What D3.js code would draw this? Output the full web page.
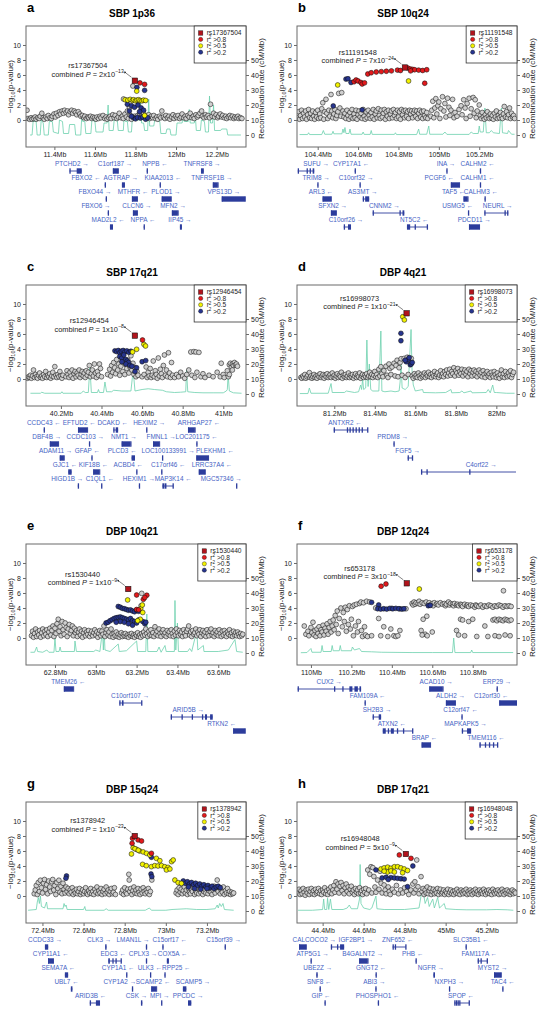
<!DOCTYPE html>
<html><head><meta charset="utf-8">
<script src="https://cdn.jsdelivr.net/npm/d3@7"></script>
<style>body{margin:0;background:#fff}svg{display:block}text{font-family:"Liberation Sans",Arial,sans-serif}</style>
</head><body><svg id="c" width="542" height="1034"></svg>
<script>
// ---------- Panel a: SBP 1p36 ----------
const ticksA=[11.4,11.6,11.8,12,12.2];
const tickLabA=["11.4Mb","11.6Mb","11.8Mb","12Mb","12.2Mb"];
const greyA=[[11.265,1.3],[11.27,0.2],[11.278,0.1],[11.285,0.3],[11.29,0.1],[11.298,0.2],[11.305,0.4],[11.31,0.1],[11.318,0.3],[11.325,0.2],[11.33,0.5],[11.338,0.9],[11.345,0.3],[11.35,0.1],[11.358,0.4],[11.365,0.2],[11.37,0.6],[11.378,0.3],[11.385,0.2],[11.39,0.5],[11.398,0.8],[11.405,0.4],[11.41,0.9],[11.418,0.6],[11.425,1.1],[11.43,0.8],[11.438,1.2],[11.445,0.9],[11.45,1.3],[11.458,1.0],[11.465,1.2],[11.47,0.7],[11.478,1.1],[11.485,1.3],[11.49,0.9],[11.498,1.2],[11.505,1.0],[11.51,0.7],[11.518,1.1],[11.525,0.8],[11.53,0.5],[11.538,0.6],[11.545,0.3],[11.55,0.5],[11.558,0.2],[11.565,0.4],[11.57,0.3],[11.578,0.5],[11.585,0.2],[11.59,0.4],[11.598,0.3],[11.605,0.1],[11.61,0.4],[11.618,0.2],[11.625,0.5],[11.63,0.3],[11.64,0.6],[11.648,0.2],[11.655,0.4],[11.66,0.1],[11.668,0.3],[11.675,0.5],[11.68,0.2],[11.688,0.7],[11.695,0.3],[11.70,0.6],[11.708,0.2],[11.715,0.4],[11.72,0.9],[11.728,0.3],[11.735,0.5],[11.74,0.2],[11.748,0.8],[11.755,0.4],[11.76,1.2],[11.765,0.2],[11.77,1.7],[11.775,0.6],[11.78,0.1],[11.787,4.53],[11.741,2.8],[11.795,0.5],[11.81,0.6],[11.82,0.8],[11.83,0.5],[11.84,0.9],[11.855,0.4],[11.865,0.7],[11.87,0.2],[11.878,0.5],[11.885,0.3],[11.89,0.6],[11.898,0.2],[11.905,0.4],[11.91,0.1],[11.918,0.5],[11.925,0.3],[11.93,1.2],[11.938,0.4],[11.945,0.2],[11.95,0.6],[11.958,0.3],[11.965,0.5],[11.97,0.1],[11.978,0.4],[11.985,0.7],[11.99,0.2],[11.998,0.5],[12.005,0.3],[12.01,0.6],[12.018,0.2],[12.025,0.4],[12.03,0.8],[12.038,0.3],[12.045,0.5],[12.05,0.2],[12.058,0.6],[12.065,0.4],[12.07,0.9],[12.078,0.3],[12.085,0.5],[12.09,0.2],[12.098,0.7],[12.105,0.4],[12.11,0.6],[12.118,0.9],[12.126,1.2],[12.13,0.5],[12.138,0.3],[12.145,0.7],[12.15,0.4],[12.158,0.6],[12.165,0.3],[12.17,2.1],[12.178,0.5],[12.185,0.9],[12.19,0.4],[12.198,0.7],[12.205,0.3],[12.21,0.5],[12.218,0.8],[12.225,0.4],[12.23,0.6],[12.238,0.3],[12.245,0.5],[12.25,0.2],[12.258,0.4],[12.265,0.6],[12.27,0.3],[12.278,0.5],[12.285,0.2],[12.29,0.4],[12.298,0.3],[12.305,0.5],[12.31,0.2],[12.318,0.3],[12.325,0.2]];
const blueA=[[11.807,4.35],[11.845,3.95],[11.76,2.1],[11.78,1.9],[11.795,1.7],[11.812,2.0],[11.828,1.6],[11.84,1.3],[11.77,1.2],[11.79,0.3],[11.80,0.15],[11.81,0.35],[11.825,0.25],[11.835,0.4],[11.85,0.1],[11.86,0.3],[11.78,0.5],[11.82,1.1]];
const yellowA=[[11.806,3.85],[11.749,2.7],[11.762,2.65],[11.774,2.75],[11.785,2.6],[11.791,2.7],[11.80,2.55],[11.807,2.65],[11.815,2.7],[11.823,2.6],[11.832,2.55],[11.84,2.65],[11.85,2.6],[11.845,0.6]];
const redA=[[11.822,4.95],[11.845,4.75]];
const leadA=[11.797,5.24];
const recA=[[11.28,0],[11.29,0],[11.295,9],[11.31,9],[11.315,0],[11.33,0],[11.335,10],[11.345,8],[11.35,0],[11.37,0],[11.375,9],[11.39,9],[11.395,2],[11.42,1],[11.425,10],[11.44,9],[11.445,1],[11.47,1],[11.475,7],[11.5,7],[11.505,0],[11.53,0],[11.535,12],[11.54,9],[11.55,9],[11.555,1],[11.58,1],[11.585,10],[11.6,9],[11.605,2],[11.64,2],[11.645,8],[11.66,8],[11.665,20],[11.67,3],[11.69,3],[11.695,10],[11.71,10],[11.715,3],[11.74,3],[11.745,14],[11.75,9],[11.76,9],[11.765,2],[11.78,2],[11.785,12],[11.8,10],[11.82,10],[11.825,22],[11.83,8],[11.84,8],[11.845,3],[11.86,3],[11.865,24],[11.87,6],[11.89,6],[11.895,10],[11.92,9],[11.925,1],[11.95,1],[11.955,4],[11.97,4],[11.975,0],[12.0,0],[12.005,8],[12.03,8],[12.035,14],[12.04,9],[12.06,9],[12.065,17],[12.07,8],[12.09,8],[12.095,13],[12.1,3],[12.12,3],[12.125,10],[12.14,9],[12.145,2],[12.16,2],[12.165,26],[12.17,8],[12.18,8],[12.185,20],[12.19,3],[12.22,3],[12.225,4],[12.25,4],[12.255,0],[12.3,0],[12.32,0]];
const genesA=[["PTCHD2","r",0,11.474,11.535,11.486,[[11.474,11.477],[11.51,11.535]]],["C1orf187","r",0,11.689,11.714,11.699],["NPPB","l",0,11.855,11.858,11.896],["TNFRSF8","r",0,12.123,12.137,12.128],["FBXO2","l",1,11.648,11.652,11.556],["AGTRAP","r",1,11.733,11.748,11.727],["KIAA2013","l",1,11.919,11.922,11.935],["TNFRSF1B","r",1,12.182,12.206,12.177],["FBXO44","r",2,11.653,11.657,11.6],["MTHFR","l",2,11.783,11.808,11.788],["PLOD1","r",2,11.93,11.975,11.95],["VPS13D","r",2,12.226,12.34,12.236],["FBXO6","r",3,11.663,11.667,11.605],["CLCN6","r",3,11.788,11.808,11.807],["MFN2","r",3,11.98,12.009,11.985],["MAD2L2","l",4,11.674,11.689,11.665],["NPPA","l",4,11.84,11.843,11.837],["IIP45","r",4,12.019,12.029,12.019]];

// ---------- Panel b: SBP 10q24 ----------
const ticksB=[104.4,104.6,104.8,105,105.2];
const tickLabB=["104.4Mb","104.6Mb","104.8Mb","105Mb","105.2Mb"];
const greyB=[[104.30,0.3],[104.305,1.1],[104.31,0.1],[104.315,0.6],[104.32,1.3],[104.325,0.2],[104.33,0.9],[104.335,0.4],[104.34,1.2],[104.345,0.1],[104.35,0.7],[104.355,1.4],[104.36,0.3],[104.365,0.9],[104.37,0.2],[104.375,1.2],[104.38,0.5],[104.385,0.1],[104.39,1.0],[104.395,0.4],[104.40,1.3],[104.405,0.2],[104.41,0.8],[104.415,0.3],[104.42,1.5],[104.425,2.3],[104.43,0.1],[104.435,1.1],[104.441,2.76],[104.445,0.9],[104.45,0.2],[104.455,1.3],[104.46,0.5],[104.466,3.4],[104.47,1.2],[104.475,0.3],[104.48,0.8],[104.485,1.4],[104.49,0.2],[104.495,0.6],[104.50,1.1],[104.504,3.55],[104.51,1.6],[104.515,0.5],[104.519,3.65],[104.525,1.2],[104.53,0.4],[104.535,0.9],[104.54,0.2],[104.545,1.3],[104.55,0.6],[104.555,0.1],[104.56,1.0],[104.565,0.4],[104.57,1.4],[104.575,0.2],[104.58,0.8],[104.585,0.3],[104.59,1.3],[104.595,0.1],[104.60,0.7],[104.605,1.2],[104.61,0.4],[104.615,0.9],[104.62,0.2],[104.625,1.4],[104.63,0.5],[104.635,0.1],[104.64,1.1],[104.645,0.3],[104.65,1.3],[104.655,0.6],[104.66,0.2],[104.665,1.0],[104.67,0.4],[104.675,1.4],[104.68,0.1],[104.685,0.8],[104.69,1.2],[104.695,0.3],[104.70,1.5],[104.705,0.6],[104.71,0.2],[104.715,1.3],[104.72,0.4],[104.725,0.9],[104.73,1.4],[104.735,0.1],[104.74,1.1],[104.745,0.5],[104.75,1.3],[104.755,0.2],[104.76,0.8],[104.765,1.2],[104.77,0.3],[104.775,1.4],[104.78,0.6],[104.785,1.0],[104.79,0.2],[104.795,1.3],[104.80,0.4],[104.805,1.1],[104.81,0.1],[104.815,1.4],[104.82,0.7],[104.825,1.2],[104.83,0.3],[104.835,1.3],[104.84,0.5],[104.845,1.1],[104.85,0.2],[104.855,1.3],[104.86,0.8],[104.865,1.2],[104.87,0.3],[104.875,1.0],[104.88,1.3],[104.885,0.5],[104.89,1.2],[104.895,0.2],[104.90,0.9],[104.905,1.3],[104.91,0.4],[104.915,1.1],[104.92,0.2],[104.925,1.2],[104.93,0.6],[104.935,0.3],[104.94,1.0],[104.945,0.2],[104.96,0.5],[104.965,1.3],[104.97,2.5],[104.975,0.3],[104.98,1.6],[104.985,2.85],[104.99,0.8],[104.995,1.9],[105.0,2.4],[105.005,0.2],[105.01,1.5],[105.018,3.1],[105.025,1.2],[105.03,2.2],[105.035,0.4],[105.043,2.9],[105.05,1.7],[105.055,0.6],[105.06,1.3],[105.068,2.75],[105.075,0.3],[105.08,1.0],[105.09,0.5],[105.1,1.4],[105.11,1.9],[105.115,0.7],[105.123,2.7],[105.13,1.6],[105.135,0.2],[105.14,2.2],[105.15,2.9],[105.155,0.5],[105.16,1.5],[105.17,3.0],[105.175,0.9],[105.18,2.7],[105.185,0.3],[105.19,1.2],[105.2,2.0],[105.205,0.6],[105.21,0.2],[105.215,1.0],[105.22,0.4],[105.225,0.1],[105.23,0.7],[105.235,0.3],[105.24,1.1],[105.245,0.5],[105.25,0.2],[105.255,0.8],[105.26,0.3],[105.265,0.6],[105.27,0.1],[105.275,0.9],[105.28,0.4],[105.285,1.2],[105.29,0.2],[105.295,0.6],[105.30,0.3],[105.305,1.0],[105.31,0.5],[105.315,0.2],[105.32,0.8],[105.324,1.8],[105.33,0.4],[105.335,1.1],[105.34,0.3],[105.345,0.7],[105.35,1.6],[105.355,0.2],[105.36,0.9],[105.365,0.4],[105.37,0.6],[105.375,0.2]];
const blueB=[[104.477,1.87],[104.54,5.45],[104.55,5.5],[104.565,5.0],[104.62,1.35]];
const yellowB=[[104.499,4.67],[104.85,5.2]];
const redB=[[104.58,5.1],[104.59,5.33],[104.6,5.2],[104.614,5.0],[104.62,4.8],[104.632,4.95],[104.648,6.13],[104.665,6.3],[104.69,6.4],[104.715,6.45],[104.74,6.5],[104.765,6.55],[104.795,6.65],[104.81,6.6],[104.845,6.95],[104.858,6.8],[104.87,6.75],[104.88,6.7],[104.9,6.65],[104.92,6.6],[104.94,6.7],[104.93,4.9],[104.86,6.55]];
const leadB=[104.832,7.0];
const recB=[[104.31,0.3],[104.35,0.3],[104.355,1.5],[104.36,0.3],[104.42,0.3],[104.428,3],[104.435,0.5],[104.47,0.5],[104.476,2.5],[104.48,0.8],[104.52,0.8],[104.525,4],[104.53,1.5],[104.535,5],[104.54,1],[104.555,1],[104.56,4],[104.565,0.5],[104.62,0.5],[104.625,2],[104.63,0.4],[104.66,0.4],[104.665,3],[104.67,0.4],[104.78,0.4],[104.785,1.5],[104.79,0.3],[104.89,0.3],[104.9,4],[104.905,0.5],[104.94,0.5],[104.95,6],[104.955,0.5],[105.02,0.5],[105.03,2],[105.04,0.4],[105.15,0.4],[105.16,2],[105.17,1],[105.195,1],[105.2,6],[105.205,2],[105.22,2],[105.228,18],[105.235,1.5],[105.25,1.5],[105.26,3],[105.27,1.5],[105.3,1],[105.31,18],[105.315,1.5],[105.34,1],[105.345,3],[105.36,0.5],[105.375,0.5]];
const genesB=[["SUFU","r",0,104.301,104.383,104.392,[[104.301,104.303],[104.345,104.35],[104.36,104.365],[104.375,104.383]]],["CYP17A1","l",0,104.583,104.587,104.565],["INA","r",0,105.037,105.041,105.035],["CALHM2","l",0,105.203,105.207,105.192],["TRIM8","r",1,104.398,104.402,104.392],["C10orf32","r",1,104.607,104.611,104.59],["PCGF6","l",1,105.06,105.101,105.002],["CALHM1","l",1,105.203,105.207,105.192],["ARL3","l",2,104.425,104.466,104.416],["AS3MT","r",2,104.623,104.655,104.623,[[104.623,104.627],[104.635,104.655]]],["TAF5","l",2,105.123,105.143,105.073],["CALHM3","l",2,105.226,105.23,105.208],["SFXN2","r",3,104.466,104.491,104.474],["CNNM2","r",3,104.672,104.829,104.73,[[104.672,104.675],[104.805,104.81],[104.82,104.829]]],["USMG5","l",3,105.144,105.148,105.093],["NEURL","r",3,105.225,105.344,105.291,[[105.225,105.228],[105.325,105.33],[105.338,105.344]]],["C10orf26","r",4,104.529,104.565,104.54,[[104.529,104.532],[104.55,104.565]]],["NT5C2","l",4,104.842,104.945,104.878,[[104.842,104.858],[104.88,104.885],[104.94,104.945]]],["PDCD11","r",4,105.15,105.2,105.175]];

// ---------- Panel c: SBP 17q21 ----------
const ticksC=[40.2,40.4,40.6,40.8,41];
const tickLabC=["40.2Mb","40.4Mb","40.6Mb","40.8Mb","41Mb"];
const greyC=[[40.035,0.1],[40.04,0.3],[40.045,0.2],[40.05,0.5],[40.055,0.1],[40.06,0.4],[40.065,1.2],[40.07,0.2],[40.075,0.6],[40.08,0.3],[40.085,0.1],[40.09,0.5],[40.095,0.8],[40.10,0.2],[40.105,0.4],[40.11,0.1],[40.115,0.6],[40.12,0.3],[40.125,1.0],[40.13,0.2],[40.135,0.5],[40.14,0.3],[40.145,0.7],[40.15,0.1],[40.155,0.4],[40.16,0.9],[40.165,0.3],[40.17,1.65],[40.175,0.5],[40.18,0.2],[40.185,0.6],[40.19,0.3],[40.195,1.0],[40.20,0.4],[40.205,0.1],[40.21,0.5],[40.225,0.3],[40.23,1.1],[40.235,0.6],[40.24,0.2],[40.245,0.9],[40.25,0.4],[40.255,1.2],[40.26,0.1],[40.265,0.7],[40.27,1.0],[40.275,0.3],[40.28,0.8],[40.285,0.5],[40.29,1.2],[40.295,0.2],[40.30,0.6],[40.305,1.0],[40.31,0.4],[40.315,0.8],[40.32,0.2],[40.325,1.1],[40.33,0.5],[40.335,0.9],[40.34,1.8],[40.345,0.3],[40.35,0.7],[40.355,1.2],[40.36,0.4],[40.365,2.0],[40.37,0.8],[40.375,0.2],[40.38,1.0],[40.385,0.5],[40.39,2.0],[40.395,1.4],[40.40,0.3],[40.43,0.6],[40.44,1.3],[40.445,0.4],[40.45,1.8],[40.455,0.9],[40.46,2.2],[40.465,1.5],[40.47,0.7],[40.475,2.6],[40.48,1.2],[40.485,2.0],[40.49,0.5],[40.495,1.7],[40.50,2.9],[40.505,1.0],[40.51,2.3],[40.515,0.6],[40.52,1.9],[40.525,1.4],[40.53,2.5],[40.535,0.8],[40.54,1.6],[40.545,3.1],[40.55,1.2],[40.555,2.1],[40.56,0.6],[40.565,1.5],[40.57,0.3],[40.575,1.0],[40.58,0.5],[40.60,0.3],[40.61,0.6],[40.62,1.6],[40.625,0.2],[40.63,0.9],[40.635,0.4],[40.64,1.4],[40.645,0.2],[40.65,0.5],[40.655,2.4],[40.66,0.3],[40.665,1.1],[40.67,0.6],[40.675,0.1],[40.68,2.8],[40.685,0.4],[40.69,1.3],[40.695,0.7],[40.70,0.2],[40.705,1.8],[40.71,3.2],[40.715,0.5],[40.72,1.2],[40.725,0.3],[40.73,3.5],[40.735,0.8],[40.74,0.2],[40.745,2.2],[40.75,0.5],[40.76,0.2],[40.77,0.6],[40.78,0.3],[40.79,0.9],[40.80,0.4],[40.81,0.1],[40.82,0.6],[40.83,1.2],[40.84,3.6],[40.855,3.65],[40.865,3.6],[40.88,3.55],[40.845,0.5],[40.86,0.2],[40.87,0.9],[40.89,0.3],[40.90,0.7],[40.91,0.2],[40.93,0.5],[40.95,0.3],[40.97,0.9],[40.99,2.1],[40.985,0.3],[41.0,0.6],[41.005,0.2],[41.02,1.1],[41.025,0.3],[41.03,1.9],[41.035,2.1],[41.04,1.6],[41.045,2.0],[41.05,1.8],[41.055,2.2],[41.06,1.9],[41.065,2.0],[41.07,1.7],[41.03,0.6],[41.045,1.2]];
const blueC=[[40.466,3.75],[40.475,3.65],[40.483,3.8],[40.49,3.5],[40.498,3.7],[40.507,3.8],[40.515,3.6],[40.525,3.75],[40.535,3.55],[40.545,3.7],[40.49,3.0],[40.5,2.8],[40.51,3.2],[40.52,2.6],[40.527,2.4],[40.533,2.2],[40.52,2.0],[40.54,1.8],[40.55,1.7],[40.6,2.3],[40.618,2.45],[40.573,1.5],[40.565,1.0],[40.5,2.3]];
const yellowC=[[40.609,4.62],[40.617,4.4],[40.573,3.96],[40.553,3.6]];
const redC=[[40.602,5.2]];
const leadC=[40.5645,5.78];
const recC=[[40.05,0.5],[40.1,0.5],[40.105,1.2],[40.12,0.5],[40.2,0.5],[40.205,1.5],[40.21,0.5],[40.3,0.5],[40.31,2],[40.32,1],[40.335,1],[40.343,18],[40.35,1],[40.38,1],[40.385,3],[40.39,1],[40.41,1],[40.417,8],[40.425,1.5],[40.45,1.5],[40.46,2.5],[40.5,2],[40.545,2],[40.556,16],[40.565,2],[40.6,3],[40.63,3.5],[40.66,3],[40.7,2.5],[40.72,1.5],[40.76,1],[40.79,1.2],[40.815,1.5],[40.819,16],[40.825,1.5],[40.86,1],[40.9,0.8],[40.95,0.8],[41.0,0.8],[41.015,2],[41.02,3],[41.024,13],[41.03,2],[41.05,0.8],[41.09,0.5]];
const genesC=[["CCDC43","l",0,40.115,40.12,40.116],["EFTUD2","l",0,40.285,40.33,40.29],["DCAKD","l",0,40.458,40.482,40.455,[[40.458,40.462],[40.47,40.482]]],["HEXIM2","r",0,40.62,40.624,40.635],["ARHGAP27","l",0,40.827,40.86,40.88],["DBF4B","r",1,40.146,40.187,40.13],["CCDC103","r",1,40.338,40.342,40.32],["NMT1","r",1,40.5,40.544,40.51],["FMNL1","r",1,40.655,40.685,40.694],["LOC201175","l",1,40.867,40.871,40.869],["ADAM11","r",2,40.195,40.215,40.174],["GFAP","l",2,40.35,40.354,40.33],["PLCD3","l",2,40.548,40.565,40.502],["LOC100133991","r",2,40.698,40.702,40.728],["PLEKHM1","l",2,40.868,40.926,40.959],["GJC1","l",3,40.236,40.253,40.22],["KIF18B","l",3,40.36,40.39,40.36],["ACBD4","l",3,40.571,40.575,40.532],["C17orf46","l",3,40.694,40.698,40.729],["LRRC37A4","l",3,40.88,40.91,40.944],["HIGD1B","r",4,40.283,40.287,40.231],["C1QL1","l",4,40.398,40.402,40.392],["HEXIM1","r",4,40.584,40.588,40.584],["MAP3K14","l",4,40.7,40.753,40.753,[[40.7,40.71],[40.712,40.72],[40.75,40.753]]],["MGC57346","r",4,41.063,41.067,40.99]];

// ---------- Panel d: DBP 4q21 ----------
const ticksD=[81.2,81.4,81.6,81.8,82];
const tickLabD=["81.2Mb","81.4Mb","81.6Mb","81.8Mb","82Mb"];
const greyD=[[81.035,0.2],[81.04,0.1],[81.045,0.4],[81.05,0.2],[81.055,0.6],[81.06,0.1],[81.065,0.3],[81.07,0.5],[81.077,0.85],[81.08,0.2],[81.085,0.4],[81.09,0.1],[81.095,0.3],[81.10,0.6],[81.105,0.2],[81.11,0.4],[81.115,0.1],[81.12,0.5],[81.125,0.3],[81.13,0.7],[81.135,0.2],[81.14,0.4],[81.145,0.6],[81.15,0.1],[81.155,0.5],[81.16,0.3],[81.165,0.7],[81.17,0.2],[81.175,0.4],[81.18,0.6],[81.185,0.2],[81.19,0.8],[81.195,0.3],[81.20,0.5],[81.205,0.1],[81.21,0.4],[81.215,0.7],[81.22,0.2],[81.225,0.5],[81.23,0.3],[81.235,0.9],[81.24,0.1],[81.245,0.5],[81.25,0.3],[81.255,0.6],[81.26,0.2],[81.265,0.4],[81.27,0.8],[81.275,0.2],[81.28,0.5],[81.285,0.3],[81.29,0.6],[81.295,0.1],[81.30,0.4],[81.305,0.7],[81.31,0.2],[81.315,0.5],[81.32,0.3],[81.325,0.8],[81.33,0.1],[81.335,0.4],[81.34,0.6],[81.345,0.2],[81.35,0.5],[81.355,0.3],[81.36,0.7],[81.365,0.2],[81.37,0.4],[81.375,0.9],[81.38,0.3],[81.385,0.6],[81.39,0.2],[81.395,0.5],[81.40,1.0],[81.405,0.3],[81.41,0.6],[81.415,0.2],[81.42,1.3],[81.425,0.4],[81.43,1.64],[81.435,0.7],[81.44,0.3],[81.445,1.1],[81.455,1.7],[81.46,0.5],[81.465,0.2],[81.47,2.0],[81.475,1.4],[81.48,0.6],[81.485,1.6],[81.495,2.1],[81.50,0.4],[81.505,1.8],[81.51,2.5],[81.515,0.3],[81.52,1.5],[81.525,2.2],[81.53,2.7],[81.535,0.5],[81.545,2.75],[81.55,0.2],[81.56,2.9],[81.565,0.6],[81.57,2.4],[81.58,2.75],[81.585,0.4],[81.59,0.1],[81.595,0.7],[81.60,0.3],[81.605,0.5],[81.61,0.2],[81.615,0.8],[81.62,0.4],[81.625,0.1],[81.63,0.6],[81.635,0.3],[81.64,0.5],[81.645,0.8],[81.65,0.2],[81.655,0.6],[81.66,0.4],[81.665,0.9],[81.67,0.3],[81.675,0.6],[81.68,0.2],[81.685,0.7],[81.69,0.4],[81.695,1.0],[81.70,0.3],[81.705,0.6],[81.71,0.8],[81.715,0.2],[81.72,0.5],[81.725,1.1],[81.73,0.4],[81.735,0.7],[81.74,0.3],[81.745,1.0],[81.75,0.6],[81.755,1.2],[81.76,0.4],[81.765,0.8],[81.77,1.3],[81.775,0.5],[81.78,1.0],[81.785,0.7],[81.79,1.5],[81.795,0.4],[81.80,1.1],[81.805,0.8],[81.81,1.4],[81.815,0.5],[81.82,1.0],[81.825,0.7],[81.83,1.3],[81.835,0.4],[81.84,0.9],[81.845,1.2],[81.85,0.6],[81.855,1.0],[81.86,0.3],[81.865,1.3],[81.87,0.7],[81.875,1.1],[81.88,0.4],[81.885,0.9],[81.89,1.2],[81.895,0.5],[81.90,1.0],[81.905,0.3],[81.91,0.8],[81.915,1.2],[81.92,0.5],[81.925,0.9],[81.93,0.3],[81.935,1.1],[81.94,0.6],[81.945,0.2],[81.95,0.8],[81.955,1.0],[81.96,0.4],[81.965,0.7],[81.97,0.2],[81.975,0.9],[81.98,0.5],[81.985,0.3],[81.99,1.0],[81.995,0.6],[82.00,0.2],[82.005,0.8],[82.01,0.4],[82.015,0.1],[82.02,0.6],[82.025,1.2],[82.03,0.3],[82.035,0.7],[82.04,0.2],[82.045,1.0],[82.05,0.5],[82.055,0.3],[82.06,0.8],[82.065,0.4],[82.07,1.1],[82.075,0.2],[82.08,0.6],[82.085,0.9]];
const blueD=[[81.529,6.09],[81.529,5.1],[81.555,2.3],[81.565,2.6],[81.575,1.9],[81.58,2.0],[81.55,2.5],[81.57,2.85],[81.585,2.2]];
const yellowD=[[81.538,8.3],[81.546,7.87]];
const redD=[];
const leadD=[81.557,8.76];
const recD=[[81.03,0.3],[81.07,0.3],[81.077,4],[81.085,0.5],[81.17,0.5],[81.184,7],[81.19,1],[81.25,1],[81.26,2],[81.3,1],[81.32,1.5],[81.33,6],[81.335,3],[81.34,10],[81.345,3],[81.355,4],[81.361,36],[81.367,5],[81.373,20],[81.38,3],[81.39,2],[81.42,2],[81.43,42],[81.435,2],[81.45,1.5],[81.48,2],[81.5,1.5],[81.52,2],[81.525,8],[81.529,22],[81.535,4],[81.55,3],[81.565,5],[81.579,43],[81.584,15],[81.59,6],[81.6,2],[81.636,3],[81.64,1],[81.7,0.8],[81.75,1],[81.776,3],[81.78,0.8],[81.82,1],[81.83,2],[81.84,0.8],[81.875,2],[81.88,0.8],[81.95,1],[81.96,3],[81.97,0.8],[81.982,6],[81.99,1],[82.0,1],[82.05,0.5],[82.09,0.5]];
const genesD=[["ANTXR2","l",0,81.197,81.365,81.253,[[81.197,81.2],[81.262,81.265],[81.275,81.28],[81.29,81.295],[81.305,81.31],[81.32,81.325],[81.335,81.34],[81.362,81.365]]],["PRDM8","r",1,81.492,81.495,81.488],["FGF5","r",2,81.562,81.587,81.562,[[81.562,81.565],[81.583,81.587]]],["C4orf22","r",3,81.628,82.097,81.925,[[81.628,81.632],[81.655,81.66],[81.866,81.87]]]];

// ---------- Panel e: DBP 10q21 ----------
const ticksE=[62.8,63,63.2,63.4,63.6];
const tickLabE=["62.8Mb","63Mb","63.2Mb","63.4Mb","63.6Mb"];
const greyE=[[62.685,0.3],[62.69,0.9],[62.695,0.1],[62.70,0.6],[62.705,1.2],[62.71,0.2],[62.715,0.8],[62.72,0.4],[62.725,1.0],[62.73,0.1],[62.735,0.7],[62.74,1.2],[62.745,0.3],[62.75,0.9],[62.755,0.5],[62.76,1.1],[62.765,0.2],[62.77,0.8],[62.775,1.3],[62.78,0.4],[62.785,1.0],[62.79,1.6],[62.795,0.2],[62.80,1.3],[62.805,0.6],[62.81,1.9],[62.816,2.5],[62.82,0.9],[62.825,1.5],[62.83,0.3],[62.835,2.2],[62.84,1.1],[62.845,0.5],[62.85,2.0],[62.855,1.4],[62.86,0.2],[62.865,1.2],[62.87,1.8],[62.875,0.6],[62.88,1.0],[62.885,1.6],[62.89,0.3],[62.895,1.3],[62.90,0.7],[62.905,1.0],[62.91,0.2],[62.915,0.8],[62.92,1.2],[62.925,0.4],[62.93,0.9],[62.935,0.1],[62.94,0.7],[62.945,1.1],[62.95,0.3],[62.955,0.8],[62.96,0.5],[62.965,1.0],[62.97,0.2],[62.975,0.6],[62.98,0.9],[62.985,0.3],[62.99,0.7],[62.995,1.1],[63.0,0.4],[63.005,0.8],[63.01,0.1],[63.015,0.6],[63.02,1.0],[63.025,0.3],[63.03,0.9],[63.035,0.5],[63.04,1.6],[63.045,0.2],[63.05,0.7],[63.055,1.1],[63.06,0.4],[63.065,0.8],[63.07,0.2],[63.075,1.2],[63.08,0.5],[63.085,0.1],[63.09,0.6],[63.095,0.3],[63.10,0.8],[63.105,0.2],[63.11,0.5],[63.115,0.1],[63.12,0.4],[63.125,0.7],[63.13,0.2],[63.135,0.5],[63.14,0.3],[63.145,0.6],[63.15,0.2],[63.155,0.4],[63.16,0.1],[63.165,0.5],[63.17,0.3],[63.175,0.6],[63.18,0.2],[63.185,0.4],[63.19,0.1],[63.195,0.5],[63.20,0.3],[63.205,0.7],[63.21,0.2],[63.215,0.4],[63.22,0.1],[63.225,0.6],[63.23,0.3],[63.235,0.8],[63.24,0.4],[63.245,1.2],[63.25,0.6],[63.255,0.2],[63.26,0.9],[63.265,0.4],[63.27,1.1],[63.275,0.3],[63.28,0.7],[63.285,0.2],[63.29,1.5],[63.295,0.5],[63.30,0.9],[63.305,0.3],[63.31,1.2],[63.315,0.6],[63.32,0.2],[63.325,0.8],[63.33,1.1],[63.335,0.4],[63.34,0.7],[63.345,0.2],[63.35,1.0],[63.355,0.5],[63.36,0.8],[63.365,0.3],[63.37,1.1],[63.375,0.6],[63.38,0.2],[63.385,0.9],[63.39,0.4],[63.395,1.2],[63.40,0.7],[63.405,0.3],[63.41,1.0],[63.415,0.5],[63.42,0.8],[63.425,0.2],[63.43,1.1],[63.435,0.6],[63.44,0.3],[63.445,0.9],[63.45,1.2],[63.455,1.6],[63.46,0.4],[63.465,0.8],[63.47,0.2],[63.475,1.0],[63.48,0.5],[63.485,0.7],[63.49,1.2],[63.495,0.3],[63.50,0.8],[63.505,0.5],[63.51,1.1],[63.515,0.2],[63.52,0.7],[63.525,1.0],[63.53,0.4],[63.535,0.8],[63.54,0.2],[63.545,1.1],[63.55,0.6],[63.555,0.3],[63.56,0.9],[63.565,1.2],[63.57,0.4],[63.575,0.7],[63.58,0.2],[63.585,1.0],[63.59,0.5],[63.595,0.8],[63.60,0.3],[63.605,1.1],[63.61,0.6],[63.615,0.2],[63.62,0.9],[63.625,0.4],[63.63,1.0],[63.635,0.6],[63.64,0.2],[63.645,0.8],[63.65,0.5],[63.655,1.1],[63.66,0.3],[63.665,0.7],[63.67,0.2],[63.675,0.9],[63.68,0.4],[63.685,0.7],[63.69,0.3],[63.695,0.8],[63.70,0.5],[63.705,0.2],[63.71,0.6],[63.715,0.3],[63.72,0.5],[63.225,5.95],[63.222,4.3]];
const blueE=[[63.11,4.2],[63.12,4.1],[63.13,3.95],[63.14,3.9],[63.15,3.8],[63.16,3.7],[63.17,3.75],[63.18,3.6],[63.19,3.5],[63.2,3.7],[63.21,3.55],[63.05,2.0],[63.06,2.1],[63.07,2.3],[63.08,2.45],[63.09,2.6],[63.1,2.7],[63.11,2.75],[63.12,2.8],[63.13,2.7],[63.14,2.6],[63.15,2.5],[63.16,2.4],[63.17,2.6],[63.18,2.3],[63.19,2.2],[63.2,2.0],[63.21,2.4],[63.23,2.2],[63.24,1.9],[63.245,2.1],[63.12,2.2],[63.14,2.1],[63.16,1.9],[63.18,1.7],[63.1,2.1]];
const yellowE=[[63.156,5.07],[63.22,3.9],[63.228,4.4],[63.218,2.5],[63.205,2.3],[63.23,3.4]];
const redE=[[63.2,5.73],[63.233,5.15],[63.25,5.7],[63.24,5.4],[63.2,3.8],[63.21,3.75]];
const leadE=[63.159,6.53];
const recE=[[62.68,0.5],[62.7,0.5],[62.71,4],[62.715,1],[62.74,0.5],[62.76,2],[62.77,0.5],[62.795,0.5],[62.8,10],[62.805,1],[62.82,1],[62.825,4],[62.83,1],[62.895,1],[62.898,8],[62.905,1],[62.99,1],[63.0,2],[63.02,1],[63.033,15],[63.037,2],[63.041,15],[63.045,2],[63.07,1],[63.11,6],[63.115,1],[63.15,1.5],[63.2,8],[63.205,1],[63.245,1],[63.25,26],[63.255,1],[63.3,1],[63.31,4],[63.32,0.5],[63.339,5],[63.345,1],[63.385,1],[63.388,35],[63.392,2],[63.4,20],[63.405,1],[63.45,1],[63.46,3],[63.47,1],[63.495,15],[63.5,2],[63.527,5],[63.53,1],[63.6,1],[63.65,2],[63.682,9],[63.69,1],[63.72,0.5]];
const genesE=[["TMEM26","l",0,62.844,62.89,62.865],["C10orf107","r",1,63.115,63.225,63.168,[[63.115,63.118],[63.128,63.136],[63.222,63.225]]],["ARID5B","r",2,63.367,63.573,63.453,[[63.367,63.37],[63.42,63.423],[63.47,63.473],[63.52,63.525],[63.535,63.545],[63.56,63.573]]],["RTKN2","l",3,63.674,63.731,63.617]];

// ---------- Panel f: DBP 12q24 ----------
const ticksF=[110,110.2,110.4,110.6,110.8];
const tickLabF=["110Mb","110.2Mb","110.4Mb","110.6Mb","110.8Mb"];
const greyF=[[109.967,1.6],[109.975,0.5],[109.985,0.9],[109.99,0.3],[110.0,1.4],[110.005,0.7],[110.01,2.1],[110.015,0.4],[110.02,1.0],[110.025,0.2],[110.03,1.2],[110.035,0.6],[110.04,1.5],[110.045,0.3],[110.05,1.1],[110.055,0.8],[110.06,1.7],[110.065,0.4],[110.07,1.3],[110.075,0.9],[110.08,1.9],[110.085,0.5],[110.09,1.4],[110.095,2.2],[110.1,0.8],[110.105,1.6],[110.11,2.4],[110.115,1.1],[110.12,3.0],[110.125,1.8],[110.13,3.6],[110.135,0.6],[110.14,2.6],[110.148,4.0],[110.155,1.5],[110.16,3.4],[110.165,2.2],[110.17,4.1],[110.175,0.9],[110.18,3.8],[110.185,1.8],[110.19,4.3],[110.195,1.2],[110.2,2.5],[110.205,4.2],[110.21,0.3],[110.214,4.4],[110.22,1.6],[110.225,4.5],[110.23,0.8],[110.235,2.2],[110.24,4.6],[110.247,4.8],[110.25,1.0],[110.255,0.2],[110.26,4.7],[110.265,1.5],[110.27,0.4],[110.275,4.9],[110.28,0.2],[110.29,4.8],[110.30,0.3],[110.32,4.0],[110.335,2.6],[110.345,0.3],[110.36,1.5],[110.38,0.2],[110.395,1.2],[110.41,0.3],[110.42,0.2],[110.43,0.3],[110.44,1.0],[110.4,3.95],[110.44,3.9],[110.47,3.9],[110.5,4.6],[110.505,4.4],[110.51,4.8],[110.515,4.5],[110.52,4.7],[110.53,4.6],[110.535,4.9],[110.54,4.5],[110.55,4.7],[110.555,2.5],[110.56,4.6],[110.565,0.5],[110.57,4.8],[110.573,2.9],[110.58,4.5],[110.585,4.7],[110.59,4.4],[110.6,4.6],[110.605,4.3],[110.61,4.7],[110.62,4.5],[110.625,4.6],[110.63,4.4],[110.64,4.7],[110.65,4.5],[110.66,4.6],[110.665,4.3],[110.67,4.5],[110.68,4.8],[110.685,4.4],[110.69,4.6],[110.70,4.5],[110.705,4.3],[110.71,4.6],[110.72,4.4],[110.725,4.5],[110.73,4.3],[110.74,4.5],[110.745,4.4],[110.75,4.2],[110.76,4.5],[110.77,4.3],[110.775,4.4],[110.78,4.2],[110.79,4.4],[110.80,4.3],[110.81,4.1],[110.815,4.4],[110.82,4.3],[110.83,4.2],[110.84,4.4],[110.85,4.1],[110.86,4.3],[110.87,4.2],[110.88,4.4],[110.89,4.3],[110.90,4.1],[110.91,4.3],[110.92,4.2],[110.93,4.4],[110.94,4.3],[110.95,4.1],[110.96,4.3],[110.97,4.2],[110.98,4.3],[110.99,4.2],[110.545,1.0],[110.55,0.4],[110.575,0.3],[110.6,0.8],[110.72,1.0],[110.73,0.4],[110.74,2.5],[110.75,2.4],[110.76,0.3],[110.78,2.2],[110.8,2.5],[110.82,0.2],[110.86,1.6],[110.875,0.2],[110.9,2.4],[110.91,2.5],[110.92,2.3],[110.93,2.5],[110.94,2.4],[110.95,2.3],[110.96,2.5],[110.97,2.4],[110.98,2.3],[110.99,2.4],[110.91,0.3],[110.93,0.2],[110.96,0.4],[110.985,0.3],[110.952,6.3]];
const blueF=[[110.30,4.75],[110.335,4.4],[110.33,3.9],[110.345,3.85],[110.36,3.9],[110.375,3.85],[110.39,3.95],[110.405,3.9],[110.42,3.95],[110.435,3.9],[110.45,3.85],[110.46,3.9],[110.58,4.3],[110.59,4.35]];
const yellowF=[[110.536,6.53]];
const redF=[[110.347,6.9],[110.371,7.2]];
const leadF=[110.474,7.29];
const recF=[[109.95,0.2],[109.98,0.3],[110.0,3],[110.005,0.5],[110.05,0.5],[110.055,5],[110.06,1],[110.1,1],[110.105,5],[110.11,1.5],[110.14,1.5],[110.145,5],[110.15,1.5],[110.2,1.5],[110.205,4],[110.215,2],[110.24,3],[110.25,1],[110.3,0.8],[110.35,0.5],[110.5,0.3],[110.6,0.3],[110.7,0.3],[110.706,10],[110.712,0.3],[110.79,0.3],[110.795,2],[110.8,0.3],[111.0,0.3]];
const genesF=[["CUX2","r",0,109.934,110.248,110.09,[[109.934,109.937],[110.114,110.117],[110.155,110.158],[110.19,110.205],[110.215,110.232],[110.24,110.248]]],["ACAD10","r",0,110.586,110.652,110.619],["ERP29","r",0,110.918,110.922,110.92],["FAM109A","l",1,110.265,110.27,110.28],["ALDH2","r",1,110.668,110.713,110.69],["C12orf30","l",1,110.932,111.015,110.891],["SH2B3","r",2,110.305,110.347,110.327,[[110.305,110.309],[110.335,110.347]]],["C12orf47","l",2,110.744,110.748,110.74],["ATXN2","l",3,110.355,110.503,110.4,[[110.355,110.37],[110.38,110.385],[110.395,110.41],[110.425,110.43],[110.455,110.46],[110.5,110.503]]],["MAPKAPK5","r",3,110.746,110.792,110.764,[[110.746,110.749],[110.772,110.792]]],["BRAP","l",4,110.548,110.59,110.561],["TMEM116","l",4,110.833,110.924,110.866,[[110.833,110.84],[110.86,110.863],[110.88,110.883],[110.9,110.903],[110.92,110.924]]]];

// ---------- Panel g: DBP 15q24 ----------
const ticksG=[72.4,72.6,72.8,73,73.2];
const tickLabG=["72.4Mb","72.6Mb","72.8Mb","73Mb","73.2Mb"];
const greyG=[[72.36,0.3],[72.365,0.8],[72.37,1.4],[72.375,0.2],[72.38,1.8],[72.385,0.6],[72.39,2.1],[72.395,1.1],[72.40,0.4],[72.405,1.7],[72.41,2.2],[72.415,0.9],[72.42,1.5],[72.425,0.3],[72.43,2.0],[72.435,1.2],[72.44,0.6],[72.445,1.9],[72.45,2.2],[72.455,0.8],[72.46,1.4],[72.465,0.2],[72.47,1.8],[72.475,1.0],[72.48,2.1],[72.485,0.5],[72.49,1.3],[72.495,0.3],[72.50,1.7],[72.505,0.9],[72.51,0.4],[72.515,1.2],[72.52,0.6],[72.525,1.0],[72.53,0.3],[72.535,0.8],[72.54,0.5],[72.545,1.1],[72.55,0.2],[72.555,0.7],[72.56,0.4],[72.565,0.9],[72.57,0.3],[72.575,0.6],[72.58,1.0],[72.585,0.2],[72.59,0.5],[72.595,0.8],[72.60,0.3],[72.605,0.6],[72.61,1.1],[72.615,0.4],[72.62,0.2],[72.625,0.7],[72.63,0.4],[72.635,1.0],[72.64,0.3],[72.645,0.6],[72.65,0.2],[72.655,0.9],[72.66,0.5],[72.665,1.2],[72.67,0.3],[72.675,0.7],[72.68,0.4],[72.685,1.0],[72.69,0.2],[72.695,0.6],[72.70,0.9],[72.705,0.3],[72.71,1.2],[72.715,0.5],[72.72,0.8],[72.725,0.2],[72.73,0.6],[72.735,1.0],[72.74,0.3],[72.745,0.5],[72.75,1.1],[72.755,0.2],[72.785,0.4],[72.79,0.8],[72.795,0.2],[72.80,1.1],[72.805,0.5],[72.81,0.3],[72.815,0.9],[72.82,2.89],[72.822,2.13],[72.825,0.6],[72.83,1.0],[72.835,0.2],[72.84,0.7],[72.845,1.2],[72.85,0.4],[72.855,0.8],[72.86,0.3],[72.865,1.0],[72.87,0.5],[72.875,0.2],[72.88,0.9],[72.885,0.4],[72.89,1.1],[72.895,0.6],[72.90,0.3],[72.905,0.8],[72.91,0.5],[72.915,1.0],[72.92,0.2],[72.925,0.6],[72.932,2.13],[73.05,0.4],[73.055,0.8],[73.06,0.2],[73.065,1.1],[73.07,0.5],[73.075,0.9],[73.08,0.3],[73.085,0.7],[73.09,1.2],[73.095,0.4],[73.10,0.8],[73.105,0.2],[73.11,1.0],[73.115,0.5],[73.12,0.3],[73.125,0.9],[73.13,0.6],[73.135,1.2],[73.14,0.2],[73.145,0.7],[73.15,0.4],[73.155,1.0],[73.16,0.3],[73.165,0.8],[73.17,0.5],[73.175,1.1],[73.18,0.2],[73.185,0.6],[73.19,0.9],[73.195,0.4],[73.20,1.2],[73.205,0.3],[73.21,0.7],[73.215,1.0],[73.22,0.5],[73.225,0.2],[73.23,0.8],[73.235,1.3],[73.24,0.4],[73.245,0.9],[73.25,2.13],[73.255,0.6],[73.26,1.1],[73.265,0.3],[73.27,0.8],[73.275,0.5],[73.28,1.2],[73.285,0.2],[73.29,0.7],[73.295,0.4],[73.30,1.0],[73.305,0.3],[73.31,0.6],[73.315,0.2],[73.32,0.5],[73.325,0.3],[73.33,0.4]];
const blueG=[[72.517,2.67],[72.514,2.36],[72.93,5.16],[72.928,2.93],[72.932,2.58],[73.085,2.0],[73.095,1.7],[73.105,1.9],[73.115,1.6],[73.125,1.8],[73.135,1.5],[73.145,1.7],[73.155,1.4],[73.165,1.6],[73.175,1.3],[73.185,1.5],[73.195,1.2],[73.205,1.4],[73.215,1.1],[73.225,1.3],[73.235,1.0],[73.245,1.2],[73.255,1.3],[73.265,1.1],[73.11,1.2],[73.14,1.0],[73.17,0.9],[73.2,1.0]];
const yellowG=[[72.841,6.44],[72.857,6.22],[72.873,6.0],[72.89,5.87],[72.906,5.69],[72.922,5.47],[72.833,5.6],[72.954,5.02],[72.971,4.71],[72.887,4.22],[72.905,4.04],[72.93,3.91],[72.946,4.05],[72.962,4.0],[72.979,4.05],[72.995,3.9],[73.011,3.82],[73.028,4.58],[73.036,4.8],[73.003,3.47],[73.02,3.6],[73.044,2.13],[73.06,1.78],[73.076,1.69],[72.85,6.3],[72.866,6.1]];
const redG=[[72.838,7.69],[72.865,7.47],[72.882,7.33],[72.836,7.02],[72.93,5.69]];
const leadG=[72.849,8.0];
const recG=[[72.33,0.5],[72.37,1],[72.375,6],[72.38,9],[72.385,5],[72.39,10],[72.395,3],[72.41,2],[72.42,6],[72.425,1.5],[72.5,1.5],[72.505,5],[72.51,3],[72.515,4],[72.52,1],[72.6,1],[72.606,3],[72.61,0.5],[72.7,0.5],[72.71,1.5],[72.72,0.5],[72.9,0.5],[72.92,2],[72.93,0.5],[73.0,0.5],[73.03,1],[73.1,1.5],[73.15,1],[73.2,1],[73.24,1.5],[73.25,4],[73.255,2],[73.262,5],[73.27,3],[73.278,5],[73.285,1],[73.33,0.5]];
const genesG=[["CCDC33","r",0,72.412,72.428,72.412],["CLK3","r",0,72.705,72.712,72.676],["LMAN1L","r",0,72.903,72.909,72.84],["C15orf17","l",0,72.983,72.989,73.019],["C15orf39","r",0,73.286,73.292,73.281],["CYP11A1","l",1,72.428,72.452,72.44],["EDC3","l",1,72.72,72.784,72.744,[[72.72,72.728],[72.74,72.745],[72.755,72.76],[72.78,72.784]]],["CPLX3","r",1,72.903,72.909,72.889],["COX5A","l",1,73.005,73.015,73.033],["SEMA7A","l",2,72.509,72.525,72.477],["CYP1A1","l",2,72.807,72.811,72.768],["ULK3","l",2,72.923,72.927,72.922],["RPP25","l",2,72.993,72.997,73.051],["UBL7","l",3,72.538,72.546,72.517],["CYP1A2","r",3,72.835,72.841,72.776],["SCAMP2","l",3,72.93,72.954,72.938],["SCAMP5","r",3,73.083,73.1,73.132],["ARID3B","l",4,72.63,72.68,72.634,[[72.63,72.633],[72.66,72.68]]],["CSK","r",4,72.879,72.886,72.857],["MPI","r",4,72.977,72.981,72.97],["PPCDC","r",4,73.108,73.124,73.108]];

// ---------- Panel h: DBP 17q21 ----------
const ticksH=[44.4,44.6,44.8,45,45.2];
const tickLabH=["44.4Mb","44.6Mb","44.8Mb","45Mb","45.2Mb"];
const greyH=[[44.28,0.4],[44.285,0.9],[44.29,0.2],[44.295,0.7],[44.30,0.3],[44.305,1.0],[44.31,0.5],[44.315,0.1],[44.32,0.8],[44.325,0.4],[44.33,0.9],[44.335,0.2],[44.34,0.6],[44.345,1.0],[44.35,0.3],[44.355,0.7],[44.36,0.2],[44.365,0.9],[44.37,0.4],[44.375,0.6],[44.38,1.0],[44.385,0.3],[44.39,0.7],[44.395,0.2],[44.40,0.8],[44.405,0.5],[44.41,1.1],[44.415,0.3],[44.42,0.7],[44.425,0.2],[44.43,0.9],[44.435,0.5],[44.44,1.2],[44.445,0.3],[44.45,0.8],[44.455,1.4],[44.46,0.5],[44.465,1.9],[44.47,0.9],[44.475,1.6],[44.48,0.4],[44.485,1.3],[44.49,1.8],[44.495,0.7],[44.50,1.4],[44.505,0.3],[44.51,1.1],[44.515,1.6],[44.52,0.6],[44.525,1.2],[44.53,0.3],[44.535,0.9],[44.54,1.3],[44.545,0.5],[44.55,0.8],[44.555,0.2],[44.56,1.0],[44.565,0.5],[44.57,0.8],[44.575,0.3],[44.58,1.1],[44.585,0.4],[44.59,0.7],[44.595,0.2],[44.60,0.9],[44.605,0.5],[44.61,1.0],[44.615,0.3],[44.62,3.47],[44.625,0.8],[44.63,2.9],[44.636,3.9],[44.64,0.4],[44.645,3.78],[44.65,2.6],[44.655,1.2],[44.66,0.5],[44.668,2.13],[44.675,0.9],[44.68,3.3],[44.685,1.69],[44.69,0.4],[44.70,1.47],[44.705,0.8],[44.71,0.3],[44.72,1.2],[44.725,0.6],[44.73,0.2],[44.74,0.9],[44.75,0.5],[44.76,1.4],[44.77,0.3],[44.78,0.8],[44.79,0.4],[44.80,1.1],[44.81,0.6],[44.82,0.2],[44.83,0.8],[44.84,1.6],[44.845,0.4],[44.85,1.9],[44.855,0.9],[44.859,4.8],[44.865,1.24],[44.87,0.3],[44.88,2.58],[44.885,0.6],[44.89,1.0],[44.895,0.2],[44.90,0.8],[44.905,0.4],[44.91,1.2],[44.915,0.3],[44.92,0.7],[44.925,1.0],[44.93,0.2],[44.935,0.6],[44.94,0.9],[44.945,0.3],[44.95,0.7],[44.955,0.4],[44.96,1.0],[44.965,0.2],[44.97,0.6],[44.975,0.9],[44.98,0.3],[44.985,0.5],[44.99,0.8],[44.995,0.2],[45.0,0.6],[45.005,0.4],[45.01,0.9],[45.015,0.2],[45.02,0.5],[45.025,0.8],[45.03,0.3],[45.035,0.6],[45.04,0.2],[45.045,0.7],[45.05,0.4],[45.055,0.9],[45.06,0.3],[45.065,0.6],[45.07,0.2],[45.075,0.8],[45.08,0.5],[45.085,0.3],[45.09,0.7],[45.095,0.4],[45.10,0.9],[45.105,0.2],[45.11,0.6],[45.115,0.3],[45.12,0.8],[45.125,0.5],[45.13,0.2],[45.135,0.7],[45.14,0.4],[45.145,0.9],[45.15,0.3],[45.155,0.6],[45.16,0.2],[45.165,0.8],[45.17,0.4],[45.175,0.6],[45.18,0.3],[45.185,0.9],[45.19,0.5],[45.195,0.2],[45.20,0.7],[45.205,0.4],[45.21,0.8],[45.215,0.3],[45.22,0.6],[45.225,0.2],[45.23,0.9],[45.235,0.5],[45.24,0.3],[45.245,0.7],[45.25,0.4],[45.255,0.8],[45.26,0.2],[45.265,0.6],[45.27,0.3],[45.275,0.9],[45.28,0.5],[45.285,0.2],[45.29,0.7],[45.295,0.4],[45.30,0.8],[45.305,0.3],[45.31,0.6],[45.315,0.2],[45.32,0.5],[45.325,0.8],[45.33,0.3],[45.335,0.6],[45.34,0.4]];
const blueH=[[44.66,3.47],[44.84,4.0],[44.69,2.4],[44.71,2.5],[44.733,2.45],[44.75,2.4],[44.766,2.35],[44.782,2.3],[44.798,2.25],[44.814,1.24],[44.72,2.2]];
const yellowH=[[44.684,3.6],[44.7,3.75],[44.717,3.85],[44.733,3.7],[44.75,3.9],[44.766,3.9],[44.782,3.75],[44.798,3.6],[44.814,3.4],[44.79,3.1],[44.717,3.2],[44.7,3.3],[44.733,3.35],[44.75,3.2]];
const redH=[[44.774,5.47],[44.831,5.02]];
const leadH=[44.806,5.6];
const recH=[[44.28,0.5],[44.35,0.5],[44.4,1],[44.405,8],[44.41,1],[44.42,1],[44.424,8.5],[44.43,1],[44.438,8],[44.445,1],[44.5,1],[44.52,2],[44.53,4],[44.54,1.5],[44.57,1.5],[44.58,8],[44.583,31],[44.587,5],[44.6,2],[44.63,1],[44.64,2],[44.66,10],[44.665,1.5],[44.7,1],[44.8,1],[44.87,2],[44.88,10],[44.888,15],[44.9,5],[44.912,9],[44.92,3],[44.937,8],[44.945,2],[44.961,9],[44.97,2],[44.993,5],[45.0,1.5],[45.05,1],[45.1,0.8],[45.2,0.8],[45.25,1],[45.3,0.8],[45.33,0.5]];
const genesH=[["CALCOCO2","r",0,44.286,44.319,44.359],["IGF2BP1","r",0,44.44,44.505,44.562,[[44.44,44.443],[44.47,44.475],[44.485,44.505]]],["ZNF652","l",0,44.741,44.806,44.766,[[44.741,44.746],[44.752,44.758],[44.803,44.806]]],["SLC35B1","l",0,45.097,45.101,45.123],["ATP5G1","r",1,44.341,44.345,44.351],["B4GALNT2","r",1,44.579,44.62,44.595],["PHB","l",1,44.853,44.858,44.839],["FAM117A","l",1,45.156,45.205,45.164,[[45.156,45.16],[45.17,45.175],[45.2,45.205]]],["UBE2Z","r",2,44.369,44.376,44.376],["GNGT2","l",2,44.658,44.662,44.636],["NGFR","r",2,44.94,44.948,44.928],["MYST2","r",2,45.237,45.27,45.229],["SNF8","l",3,44.385,44.391,44.383],["ABI3","r",3,44.657,44.663,44.652],["NXPH3","r",3,45.016,45.02,45.018],["TAC4","l",3,45.276,45.28,45.278],["GIP","l",4,44.409,44.413,44.392],["PHOSPHO1","l",4,44.669,44.673,44.668],["SPOP","l",4,45.042,45.115,45.075,[[45.042,45.045],[45.05,45.053],[45.058,45.062],[45.066,45.07],[45.112,45.115]]]];

// ---------- panel table built from the arrays ----------
const panels=[
 {id:"a",title:"SBP 1p36",col:0,row:0,dom:[11.26,12.345],ticks:ticksA,labs:tickLabA,grey:greyA,blue:blueA,yellow:yellowA,red:redA,lead:leadA,snp:"rs17367504",pm:"2",pe:"−13",rec:recA,genes:genesA},
 {id:"b",title:"SBP 10q24",col:1,row:0,dom:[104.2975,105.387],ticks:ticksB,labs:tickLabB,grey:greyB,blue:blueB,yellow:yellowB,red:redB,lead:leadB,snp:"rs11191548",pm:"7",pe:"−24",rec:recB,genes:genesB},
 {id:"c",title:"SBP 17q21",col:0,row:1,dom:[40.028,41.112],ticks:ticksC,labs:tickLabC,grey:greyC,blue:blueC,yellow:yellowC,red:redC,lead:leadC,snp:"rs12946454",pm:"1",pe:"−8",rec:recC,genes:genesC},
 {id:"d",title:"DBP 4q21",col:1,row:1,dom:[81.016,82.102],ticks:ticksD,labs:tickLabD,grey:greyD,blue:blueD,yellow:yellowD,red:redD,lead:leadD,snp:"rs16998073",pm:"1",pe:"−21",rec:recD,genes:genesD},
 {id:"e",title:"DBP 10q21",col:0,row:2,dom:[62.658,63.736],ticks:ticksE,labs:tickLabE,grey:greyE,blue:blueE,yellow:yellowE,red:redE,lead:leadE,snp:"rs1530440",pm:"1",pe:"−9",rec:recE,genes:genesE},
 {id:"f",title:"DBP 12q24",col:1,row:2,dom:[109.931,111.019],ticks:ticksF,labs:tickLabF,grey:greyF,blue:blueF,yellow:yellowF,red:redF,lead:leadF,snp:"rs653178",pm:"3",pe:"−18",rec:recF,genes:genesF},
 {id:"g",title:"DBP 15q24",col:0,row:3,dom:[72.32,73.39],ticks:ticksG,labs:tickLabG,grey:greyG,blue:blueG,yellow:yellowG,red:redG,lead:leadG,snp:"rs1378942",pm:"1",pe:"−23",rec:recG,genes:genesG},
 {id:"h",title:"DBP 17q21",col:1,row:3,dom:[44.275,45.348],ticks:ticksH,labs:tickLabH,grey:greyH,blue:blueH,yellow:yellowH,red:redH,lead:leadH,snp:"rs16948048",pm:"5",pe:"−9",rec:recH,genes:genesH}
];

// ---------- drawing ----------
const W=220,H=121;
const colX=[26,297],rowY=[26,285,544,802];
const C={grey:"#cfcfcf",blue:"#27358f",yellow:"#f2f200",red:"#e3191c",lead:"#b0141c",rec:"#6cd0ad",frame:"#6b6b6b",gl:"#4563c4",gg:"#2c3c9c"};
const yS=d3.scaleLinear().domain([-3.6,12.533]).range([H,0]);
const rS=d3.scaleLinear().domain([-8,72.67]).range([H,0]);
const svg=d3.select("#c");
svg.append("defs").append("marker").attr("id","ah").attr("viewBox","0 0 10 10").attr("refX",1).attr("refY",5)
 .attr("markerWidth",4).attr("markerHeight",4).attr("orient","auto-start-reverse")
 .append("path").attr("d","M0,0L10,5L0,10z").attr("fill","#333");

panels.forEach((p,pi)=>{
 const ox=colX[p.col],oy=rowY[p.row];
 const g=svg.append("g").attr("transform",`translate(${ox},${oy})`);
 const x=d3.scaleLinear().domain(p.dom).range([0,W]);
 // letter & title
 g.append("text").attr("x",1).attr("y",-14).attr("font-size",13).attr("font-weight","bold").text(p.id);
 g.append("text").attr("x",106).attr("y",-9).attr("text-anchor","middle").attr("font-size",10).attr("font-weight","bold").text(p.title);
 const cid="clip"+p.id;
 g.append("clipPath").attr("id",cid).append("rect").attr("width",W).attr("height",H);
 const pl=g.append("g").attr("clip-path",`url(#${cid})`);
 // recombination
 pl.append("path").datum(p.rec).attr("fill","none").attr("stroke",C.rec).attr("stroke-width",0.8)
  .attr("d",d3.line().x(d=>x(d[0])).y(d=>rS(d[1])));
 const dots=(arr,fill,cls)=>pl.selectAll("circle."+cls).data(arr).join("circle").attr("class",cls)
  .attr("cx",d=>x(d[0])).attr("cy",d=>yS(d[1])).attr("r",2.4).attr("fill",fill).attr("stroke","#111").attr("stroke-width",0.55);
 dots(p.grey,C.grey,"gr");dots(p.blue,C.blue,"bl");dots(p.yellow,C.yellow,"ye");dots(p.red,C.red,"re");
 pl.selectAll("rect.lead").data([p.lead]).join("rect").attr("class","lead").attr("x",d=>x(d[0])-2.7).attr("y",d=>yS(d[1])-2.7)
  .attr("width",5.4).attr("height",5.4).attr("fill",C.lead).attr("stroke","#111").attr("stroke-width",0.55);
 // frame
 g.append("rect").attr("width",W).attr("height",H).attr("fill","none").attr("stroke",C.frame).attr("stroke-width",1);
 // axes
 const ax=(sel)=>{sel.select(".domain").remove();sel.selectAll(".tick line").attr("stroke",C.frame);sel.selectAll(".tick text").attr("font-size",7).attr("fill","#222").attr("font-family","Liberation Sans, Arial, sans-serif");};
 g.append("g").attr("transform",`translate(0,${H})`).call(d3.axisBottom(x).tickValues(p.ticks).tickFormat((d,i)=>p.labs[i]).tickSize(3).tickPadding(2)).call(ax);
 g.append("g").call(d3.axisLeft(yS).tickValues([0,2,4,6,8,10]).tickSize(3).tickPadding(2)).call(ax);
 g.append("g").attr("transform",`translate(${W},0)`).call(d3.axisRight(rS).tickValues([0,10,20,30,40,50]).tickSize(3).tickPadding(2)).call(ax);
 // axis labels
 const ll=g.append("text").attr("transform",`translate(-13,${H/2}) rotate(-90)`).attr("text-anchor","middle").attr("font-size",8).attr("fill","#222");
 ll.append("tspan").text("−log");ll.append("tspan").attr("font-size",5.5).attr("dy",2).text("10");ll.append("tspan").attr("dy",-2).text("(p-value)");
 g.append("text").attr("transform",`translate(${W+18},${H/2+2}) rotate(-90)`).attr("text-anchor","middle").attr("font-size",8).attr("fill","#222").text("Recombination rate (cM/Mb)");
 // legend
 const lg=g.append("g");
 const lbox=lg.append("rect").attr("fill","#fff").attr("stroke","#333").attr("stroke-width",0.8);
 const items=[[p.snp,C.lead,"sq"],["0.8",C.red],["0.5",C.yellow],["0.2",C.blue]];
 let maxw=0;const tg=[];
 items.forEach((it,i)=>{
  const yy=7+i*6.4;
  const t=lg.append("text").attr("y",yy+2.3).attr("font-size",6.6).attr("fill","#222");
  if(i===0)t.text(it[0]);else{t.append("tspan").text("r");t.append("tspan").attr("font-size",4.5).attr("dy",-2.4).text("2");t.append("tspan").attr("dy",2.4).text(" >"+it[0]);}
  tg.push([t,yy,it]);maxw=Math.max(maxw,t.node().getComputedTextLength());
 });
 const bw=maxw+17,bx=W-bw;
 lbox.attr("x",bx).attr("y",0).attr("width",bw).attr("height",37);
 tg.forEach(([t,yy,it])=>{
  t.attr("x",bx+12.5);
  if(it[2]==="sq")lg.append("rect").attr("x",bx+4.3).attr("y",yy-2.2).attr("width",4.4).attr("height",4.4).attr("fill",it[1]).attr("stroke","#111").attr("stroke-width",0.4);
  else lg.append("circle").attr("cx",bx+6.5).attr("cy",yy).attr("r",2.1).attr("fill",it[1]).attr("stroke","#111").attr("stroke-width",0.4);
 });
 // annotation
 const lx=x(p.lead[0]),ly=yS(p.lead[1]);
 const t2=g.append("text").attr("x",lx-11).attr("y",ly-4).attr("text-anchor","end").attr("font-size",7.4).attr("fill","#222");
 t2.append("tspan").text("combined ");t2.append("tspan").attr("font-style","italic").text("P");t2.append("tspan").text(" = "+p.pm+"x10");
 t2.append("tspan").attr("font-size",5.2).attr("dy",-3.5).text(p.pe);
 const bb=t2.node().getBBox();
 g.append("text").attr("x",bb.x+bb.width/2).attr("y",ly-12.5).attr("text-anchor","middle").attr("font-size",7.4).attr("fill","#222").text(p.snp);
 g.append("line").attr("x1",lx-9.5).attr("y1",ly-8).attr("x2",lx-3.5).attr("y2",ly-3.5).attr("stroke","#333").attr("stroke-width",0.6).attr("marker-start","url(#ah)");
 // genes
 const gt=g.append("g").attr("transform",`translate(0,${H})`);
 p.genes.forEach(gn=>{
  const [name,dir,row,s,e,lab,ex]=gn;
  const gy=24+row*14;
  gt.append("text").attr("x",x(lab)).attr("y",19+row*14).attr("text-anchor","middle").attr("font-size",6.4).attr("fill",C.gl).text(name+(dir==="r"?" →":" ←"));
  const x0=x(s),x1=x(e);
  gt.append("line").attr("x1",x0).attr("x2",Math.max(x1,x0+1)).attr("y1",gy).attr("y2",gy).attr("stroke",C.gg).attr("stroke-width",0.9);
  const blocks=ex||[[s,e]];
  blocks.forEach(b=>{const a=x(b[0]),c=x(b[1]);gt.append("rect").attr("x",a).attr("y",gy-2.7).attr("width",Math.max(1.3,c-a)).attr("height",5.4).attr("fill",C.gg);});
  if(!ex&&x1-x0>4){[x0,x1].forEach(v=>gt.append("rect").attr("x",v-0.2).attr("y",gy-2.7).attr("width",1).attr("height",5.4).attr("fill",C.gg));}
 });
});
</script></body></html>
